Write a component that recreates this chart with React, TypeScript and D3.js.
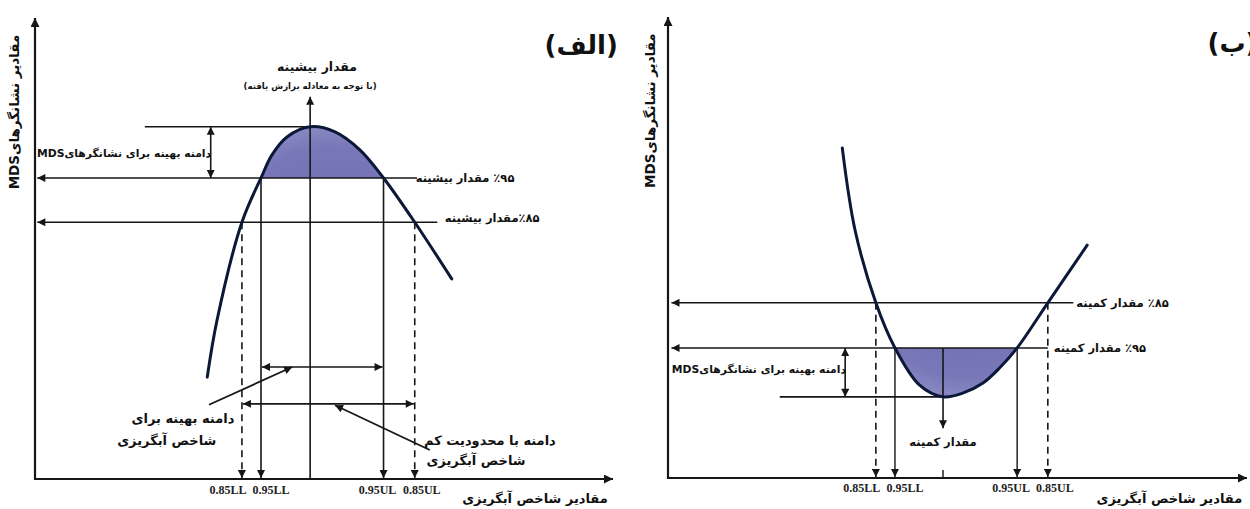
import React from 'react';
import * as d3 from 'd3';

const W = 1250;
const H = 509;

// ---- Panel (الف): curve with a maximum ----
const humpX = [29.8, 31.5, 35.8, 39.1, 41.0, 43.6, 47.6, 51.9, 56.2, 60.3, 65.7, 72.1];
const humpY = [22.1, 34.5, 55.7, 65.3, 70.3, 74.2, 76.4, 75.3, 71.4, 65.3, 55.7, 43.4];
const humpLevels = [76.4, 65.3, 55.7]; // maximum, 95% of max, 85% of max
const humpLimits = [35.8, 39.1, 60.3, 65.7]; // 0.85LL, 0.95LL, 0.95UL, 0.85UL
const humpPeakX = 47.6;

// ---- Panel (ب): curve with a minimum ----
const valleyX = [30.1, 32.3, 35.9, 39.2, 43.4, 47.5, 50.9, 54.4, 57.3, 60.3, 65.6, 72.4];
const valleyY = [71.6, 53.8, 38.0, 28.2, 20.2, 17.6, 18.4, 20.6, 23.9, 28.2, 38.0, 50.5];
const valleyLevels = [17.6, 28.2, 38.0]; // minimum, 95%, 85%
const valleyLimits = [35.9, 39.2, 60.3, 65.6];
const valleyMinX = 47.5;

const limitLabels = ['0.85LL', '0.95LL', '0.95UL', '0.85UL'];
const limitLabelOffsets = [-14, 10, -6, 7];

const titles = ['(الف)', '(ب)'];
const yTitle = 'مقادیر نشانگرهایMDS';
const xTitle = 'مقادیر شاخص آبگریزی';
const mdsRange = 'دامنه بهینه برای نشانگرهایMDS';
const maxLabels = ['مقدار بیشینه', '(با توجه به معادله برازش یافته)'];
const maxLevelLabels = ['٪۹۵ مقدار بیشینه', '٪۸۵مقدار بیشینه'];
const minLevelLabels = ['٪۹۵ مقدار کمینه', '٪۸۵ مقدار کمینه'];
const minLabel = 'مقدار کمینه';
const optLabel = ['دامنه بهینه برای', 'شاخص آبگریزی'];
const lowLabel = ['دامنه با محدودیت کم', 'شاخص آبگریزی'];

const FA = "'DejaVu Sans', sans-serif";
const SERIF = "'Liberation Serif', 'Times New Roman', serif";
const INK = '#161616';
const CURVE = '#0b1838';

type P = [number, number];

function Fa(props: { x: number; y: number; size: number; children: string; anchor?: string; transform?: string }) {
  return (
    <text
      x={props.x}
      y={props.y}
      fontFamily={FA}
      fontWeight="bold"
      fontSize={props.size}
      textAnchor={props.anchor || 'middle'}
      direction="rtl"
      fill="#111"
      transform={props.transform}
    >
      {props.children}
    </text>
  );
}

function Defs() {
  return (
    <defs>
      <marker id="ah" viewBox="0 0 10 10" refX="10" refY="5" markerWidth="9" markerHeight="8" markerUnits="userSpaceOnUse" orient="auto-start-reverse">
        <path d="M0,0 L10,5 L0,10 Z" fill={INK} />
      </marker>
      <marker id="axh" viewBox="0 0 10 10" refX="10" refY="5" markerWidth="13" markerHeight="9" markerUnits="userSpaceOnUse" orient="auto-start-reverse">
        <path d="M0,0 L10,5 L0,10 Z" fill={INK} />
      </marker>
      <radialGradient id="fillGrad" cx="50%" cy="50%" r="60%">
        <stop offset="0%" stopColor="#6767ab" />
        <stop offset="70%" stopColor="#7878b9" />
        <stop offset="100%" stopColor="#9c9cd0" />
      </radialGradient>
    </defs>
  );
}

function PanelA() {
  const x = d3.scaleLinear([0, 100], [35, 613]);
  const y = d3.scaleLinear([0, 100], [479, 18]);
  const pts: P[] = humpX.map((v, i) => [v, humpY[i]]);
  const curve = d3.curveCatmullRom.alpha(0.5);
  const line = d3.line<P>().x(d => x(d[0])).y(d => y(d[1])).curve(curve);
  const area = d3.area<P>().x(d => x(d[0])).y0(y(humpLevels[1])).y1(d => y(d[1])).curve(curve);
  const [yMax, y95, y85] = humpLevels;
  const [ll85, ll95, ul95, ul85] = humpLimits;
  const x0 = x(0);
  const y0 = y(0);
  return (
    <g>
      <clipPath id="clipA">
        <rect x={x(ll95)} y={0} width={x(ul95) - x(ll95)} height={y(y95)} />
      </clipPath>
      <path d={area(pts) || ''} fill="url(#fillGrad)" clipPath="url(#clipA)" />
      {/* axes */}
      <line x1={x0} y1={y0 + 1} x2={x0} y2={y(100)} stroke={INK} strokeWidth={2.2} markerEnd="url(#axh)" />
      <line x1={x0 - 1} y1={y0} x2={x(100)} y2={y0} stroke={INK} strokeWidth={2.2} markerEnd="url(#axh)" />
      {/* level lines */}
      <line x1={x(19)} y1={y(yMax)} x2={x(humpPeakX)} y2={y(yMax)} stroke={INK} strokeWidth={1.6} />
      <line x1={x(66.1)} y1={y(y95)} x2={x(0.4)} y2={y(y95)} stroke={INK} strokeWidth={1.6} markerEnd="url(#ah)" />
      <line x1={x(69.6)} y1={y(y85)} x2={x(0.4)} y2={y(y85)} stroke={INK} strokeWidth={1.6} markerEnd="url(#ah)" />
      {/* MDS range double arrow */}
      <line x1={x(30.4)} y1={y(yMax)} x2={x(30.4)} y2={y(y95)} stroke={INK} strokeWidth={1.6} markerStart="url(#ah)" markerEnd="url(#ah)" />
      {/* vertical limit lines */}
      <line x1={x(ll85)} y1={y(y85)} x2={x(ll85)} y2={y0 - 1} stroke={INK} strokeWidth={1.6} strokeDasharray="7,5" markerEnd="url(#ah)" />
      <line x1={x(ul85)} y1={y(y85)} x2={x(ul85)} y2={y0 - 1} stroke={INK} strokeWidth={1.6} strokeDasharray="7,5" markerEnd="url(#ah)" />
      <line x1={x(ll95)} y1={y(y95)} x2={x(ll95)} y2={y0 - 1} stroke={INK} strokeWidth={1.6} markerEnd="url(#ah)" />
      <line x1={x(ul95)} y1={y(y95)} x2={x(ul95)} y2={y0 - 1} stroke={INK} strokeWidth={1.6} markerEnd="url(#ah)" />
      <line x1={x(humpPeakX)} y1={y0} x2={x(humpPeakX)} y2={y(82.9)} stroke={INK} strokeWidth={1.6} markerEnd="url(#ah)" />
      {/* range double arrows */}
      <line x1={x(ll95) + 1} y1={y(24.3)} x2={x(ul95) - 1} y2={y(24.3)} stroke={INK} strokeWidth={1.6} markerStart="url(#ah)" markerEnd="url(#ah)" />
      <line x1={x(ll85) + 1} y1={y(16.3)} x2={x(ul85) - 1} y2={y(16.3)} stroke={INK} strokeWidth={1.6} markerStart="url(#ah)" markerEnd="url(#ah)" />
      {/* pointers */}
      <line x1={x(30.1)} y1={y(16.1)} x2={x(44.5)} y2={y(24.3)} stroke={INK} strokeWidth={1.8} markerEnd="url(#ah)" />
      <line x1={x(68.3)} y1={y(6.3)} x2={x(51.9)} y2={y(16.0)} stroke={INK} strokeWidth={1.8} markerEnd="url(#ah)" />
      {/* curve */}
      <path d={line(pts) || ''} fill="none" stroke={CURVE} strokeWidth={3} strokeLinecap="round" />
      {/* texts */}
      {humpLimits.map((v, i) => (
        <text key={i} x={x(v) + limitLabelOffsets[i]} y={y0 + 15} textAnchor="middle" fontFamily={SERIF} fontWeight="bold" fontSize={12} fill="#222">
          {limitLabels[i]}
        </text>
      ))}
      <Fa x={x(86.5)} y={y0 + 24} size={13}>{xTitle}</Fa>
      <Fa x={x(94.5)} y={54} size={26}>{titles[0]}</Fa>
      <Fa x={19} y={y(79.6)} size={13.5} transform={`rotate(-90, 19, ${y(79.6)})`}>{yTitle}</Fa>
      <Fa x={x(48.8)} y={y(88.5)} size={12.5}>{maxLabels[0]}</Fa>
      <Fa x={x(47.6)} y={y(84.6)} size={8.6}>{maxLabels[1]}</Fa>
      <Fa x={x(15.4)} y={y(69.9)} size={10.8}>{mdsRange}</Fa>
      <Fa x={x(74.4)} y={y(64.4)} size={11.5}>{maxLevelLabels[0]}</Fa>
      <Fa x={x(79.1)} y={y(55.8)} size={11.5}>{maxLevelLabels[1]}</Fa>
      <Fa x={x(25.6)} y={y(12.1)} size={13}>{optLabel[0]}</Fa>
      <Fa x={x(22.8)} y={y(7.3)} size={13}>{optLabel[1]}</Fa>
      <Fa x={x(78.7)} y={y(7.3)} size={13}>{lowLabel[0]}</Fa>
      <Fa x={x(76.3)} y={y(3.0)} size={13}>{lowLabel[1]}</Fa>
    </g>
  );
}

function PanelB() {
  const x = d3.scaleLinear([0, 100], [668, 1247]);
  const y = d3.scaleLinear([0, 100], [478, 17]);
  const pts: P[] = valleyX.map((v, i) => [v, valleyY[i]]);
  const curve = d3.curveCatmullRom.alpha(0.5);
  const line = d3.line<P>().x(d => x(d[0])).y(d => y(d[1])).curve(curve);
  const area = d3.area<P>().x(d => x(d[0])).y0(y(valleyLevels[1])).y1(d => y(d[1])).curve(curve);
  const [yMin, y95, y85] = valleyLevels;
  const [ll85, ll95, ul95, ul85] = valleyLimits;
  const x0 = x(0);
  const y0 = y(0);
  return (
    <g>
      <clipPath id="clipB">
        <rect x={x(ll95)} y={y(y95)} width={x(ul95) - x(ll95)} height={y0 - y(y95)} />
      </clipPath>
      <path d={area(pts) || ''} fill="url(#fillGrad)" clipPath="url(#clipB)" />
      <line x1={x0} y1={y0 + 1} x2={x0} y2={y(100)} stroke={INK} strokeWidth={2.2} markerEnd="url(#axh)" />
      <line x1={x0 - 1} y1={y0} x2={x(100)} y2={y0} stroke={INK} strokeWidth={2.2} markerEnd="url(#axh)" />
      <line x1={x(70.0)} y1={y(y85)} x2={x(0.6)} y2={y(y85)} stroke={INK} strokeWidth={1.6} markerEnd="url(#ah)" />
      <line x1={x(65.6)} y1={y(y95)} x2={x(0.6)} y2={y(y95)} stroke={INK} strokeWidth={1.6} markerEnd="url(#ah)" />
      <line x1={x(19.3)} y1={y(yMin)} x2={x(valleyMinX)} y2={y(yMin)} stroke={INK} strokeWidth={1.6} />
      <line x1={x(30.6)} y1={y(y95)} x2={x(30.6)} y2={y(yMin)} stroke={INK} strokeWidth={1.6} markerStart="url(#ah)" markerEnd="url(#ah)" />
      <line x1={x(ll85)} y1={y(y85)} x2={x(ll85)} y2={y0 - 1} stroke={INK} strokeWidth={1.6} strokeDasharray="7,5" markerEnd="url(#ah)" />
      <line x1={x(ul85)} y1={y(y85)} x2={x(ul85)} y2={y0 - 1} stroke={INK} strokeWidth={1.6} strokeDasharray="7,5" markerEnd="url(#ah)" />
      <line x1={x(ll95)} y1={y(y95)} x2={x(ll95)} y2={y0 - 1} stroke={INK} strokeWidth={1.4} markerEnd="url(#ah)" />
      <line x1={x(ul95)} y1={y(y95)} x2={x(ul95)} y2={y0 - 1} stroke={INK} strokeWidth={1.4} markerEnd="url(#ah)" />
      <line x1={x(valleyMinX)} y1={y(y95)} x2={x(valleyMinX)} y2={y(10.8)} stroke={INK} strokeWidth={1.6} markerEnd="url(#ah)" />
      <line x1={x(valleyMinX)} y1={y0 - 8} x2={x(valleyMinX)} y2={y0} stroke={INK} strokeWidth={1.4} />
      <path d={line(pts) || ''} fill="none" stroke={CURVE} strokeWidth={3} strokeLinecap="round" />
      {valleyLimits.map((v, i) => (
        <text key={i} x={x(v) + limitLabelOffsets[i]} y={y0 + 14} textAnchor="middle" fontFamily={SERIF} fontWeight="bold" fontSize={12} fill="#222">
          {limitLabels[i]}
        </text>
      ))}
      <Fa x={x(86.6)} y={y0 + 25} size={13}>{xTitle}</Fa>
      <Fa x={x(97.5)} y={52} size={26}>{titles[1]}</Fa>
      <Fa x={655} y={y(79.7)} size={13.5} transform={`rotate(-90, 655, ${y(79.7)})`}>{yTitle}</Fa>
      <Fa x={x(15.7)} y={y(22.8)} size={10.8}>{mdsRange}</Fa>
      <Fa x={x(78.5)} y={y(37.2)} size={11.5}>{minLevelLabels[1]}</Fa>
      <Fa x={x(74.6)} y={y(27.3)} size={11.5}>{minLevelLabels[0]}</Fa>
      <Fa x={x(valleyMinX)} y={y(6.9)} size={11.5}>{minLabel}</Fa>
    </g>
  );
}

export default function App() {
  return (
    <svg width={W} height={H} viewBox={`0 0 ${W} ${H}`} style={{ display: 'block', position: 'absolute', left: 0, top: 0, background: '#fff' }}>
      <Defs />
      <rect width={W} height={H} fill="#fff" />
      <PanelA />
      <PanelB />
    </svg>
  );
}
